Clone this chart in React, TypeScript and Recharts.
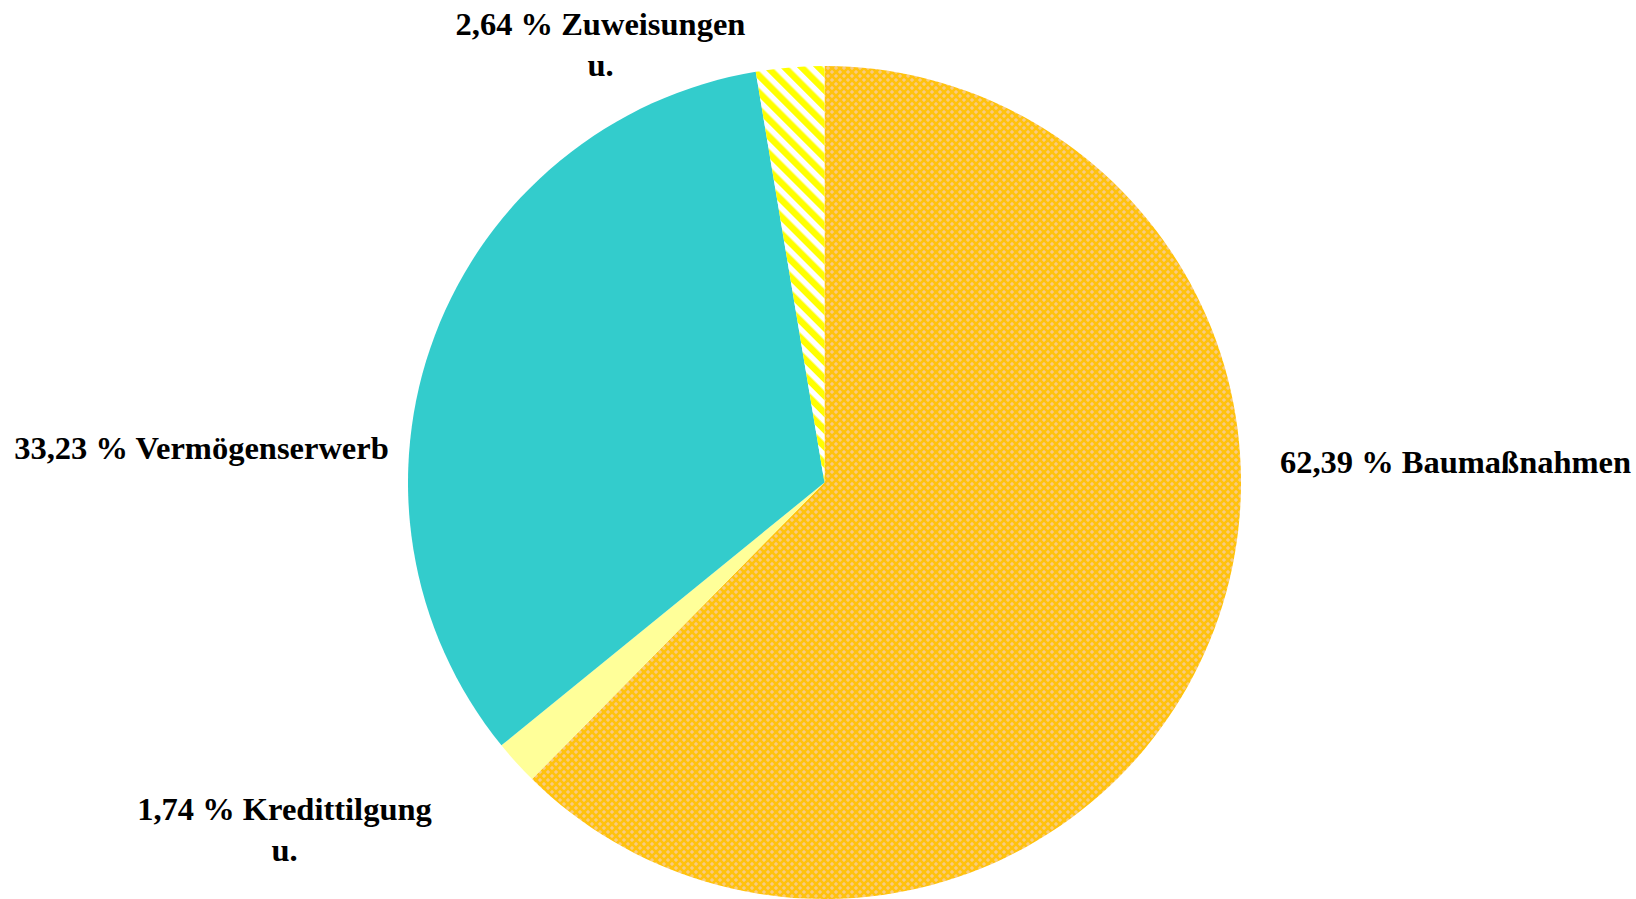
import { PieChart, Pie, Cell } from 'recharts';

// Ausgaben Vermögenshaushalt, Anteile in %
const categories = ['Baumaßnahmen', 'Kredittilgung u.', 'Vermögenserwerb', 'Zuweisungen u.'];
const shares = [62.39, 1.74, 33.23, 2.64];
const shareLabels = ['62,39 %', '1,74 %', '33,23 %', '2,64 %'];

const fills = ['url(#latticeOrange)', '#FFFF99', '#33CCCC', 'url(#stripesYellow)'];

// label placement (px offset of first baseline from pie centre), like the manually moved Excel labels
const labelOffsets = [
  { dx: 631, dy: -10 },
  { dx: -540, dy: 337 },
  { dx: -623, dy: -24 },
  { dx: -224, dy: -448 },
];

const data = categories.map((name, i) => ({ name, value: shares[i], text: shareLabels[i] }));

const W = 1636;
const H = 899;
const FONT = 32.5;
const LINE = 41;

const renderLabel = (props: any) => {
  const { cx, cy, index } = props;
  const off = labelOffsets[index];
  const item = data[index];
  // split "Kredittilgung u." -> two lines, like the source
  const words = item.name.split(' ');
  const lines = words.length > 1
    ? [`${item.text} ${words.slice(0, -1).join(' ')}`, words[words.length - 1]]
    : [`${item.text} ${item.name}`];
  return (
    <text
      key={`lbl-${index}`}
      x={cx + off.dx}
      y={cy + off.dy}
      textAnchor="middle"
      fontFamily="'Liberation Serif', 'Times New Roman', serif"
      fontWeight="bold"
      fontSize={FONT}
      fill="#000"
    >
      {lines.map((l, j) => (
        <tspan key={j} x={cx + off.dx} dy={j === 0 ? 0 : LINE}>{l}</tspan>
      ))}
    </text>
  );
};

export default function App() {
  return (
    <div style={{ position: 'absolute', left: 0, top: 0, width: W, height: H, background: '#fff' }}>
      <PieChart width={W} height={H} margin={{ top: 0, right: 0, bottom: 0, left: 0 }}>
        <defs>
          <pattern id="latticeOrange" width="8" height="8" patternUnits="userSpaceOnUse">
            <rect width="8" height="8" fill="#FFC20E" />
            <rect x="3.5" y="2" width="1" height="4" fill="#F6CDA8" />
            <rect x="2" y="3.5" width="4" height="1" fill="#F6CDA8" />
            <rect x="-0.5" y="-2" width="1" height="4" fill="#F6CDA8" />
            <rect x="-2" y="-0.5" width="4" height="1" fill="#F6CDA8" />
            <rect x="7.5" y="-2" width="1" height="4" fill="#F6CDA8" />
            <rect x="6" y="-0.5" width="4" height="1" fill="#F6CDA8" />
            <rect x="-0.5" y="6" width="1" height="4" fill="#F6CDA8" />
            <rect x="-2" y="7.5" width="4" height="1" fill="#F6CDA8" />
            <rect x="7.5" y="6" width="1" height="4" fill="#F6CDA8" />
            <rect x="6" y="7.5" width="4" height="1" fill="#F6CDA8" />
          </pattern>
          <pattern
            id="stripesYellow"
            width="12"
            height="12"
            patternUnits="userSpaceOnUse"
            patternTransform="rotate(-45)"
          >
            <rect width="12" height="12" fill="#FFFFFF" />
            <rect width="6.5" height="12" fill="#FFFF00" />
          </pattern>
        </defs>
        <Pie
          data={data}
          dataKey="value"
          nameKey="name"
          cx={824.5}
          cy={482.5}
          innerRadius={0}
          outerRadius={416.5}
          startAngle={90}
          endAngle={-270}
          stroke="none"
          label={renderLabel}
          labelLine={false}
          isAnimationActive={false}
        >
          {data.map((d, i) => (
            <Cell key={d.name} fill={fills[i]} />
          ))}
        </Pie>
      </PieChart>
    </div>
  );
}
